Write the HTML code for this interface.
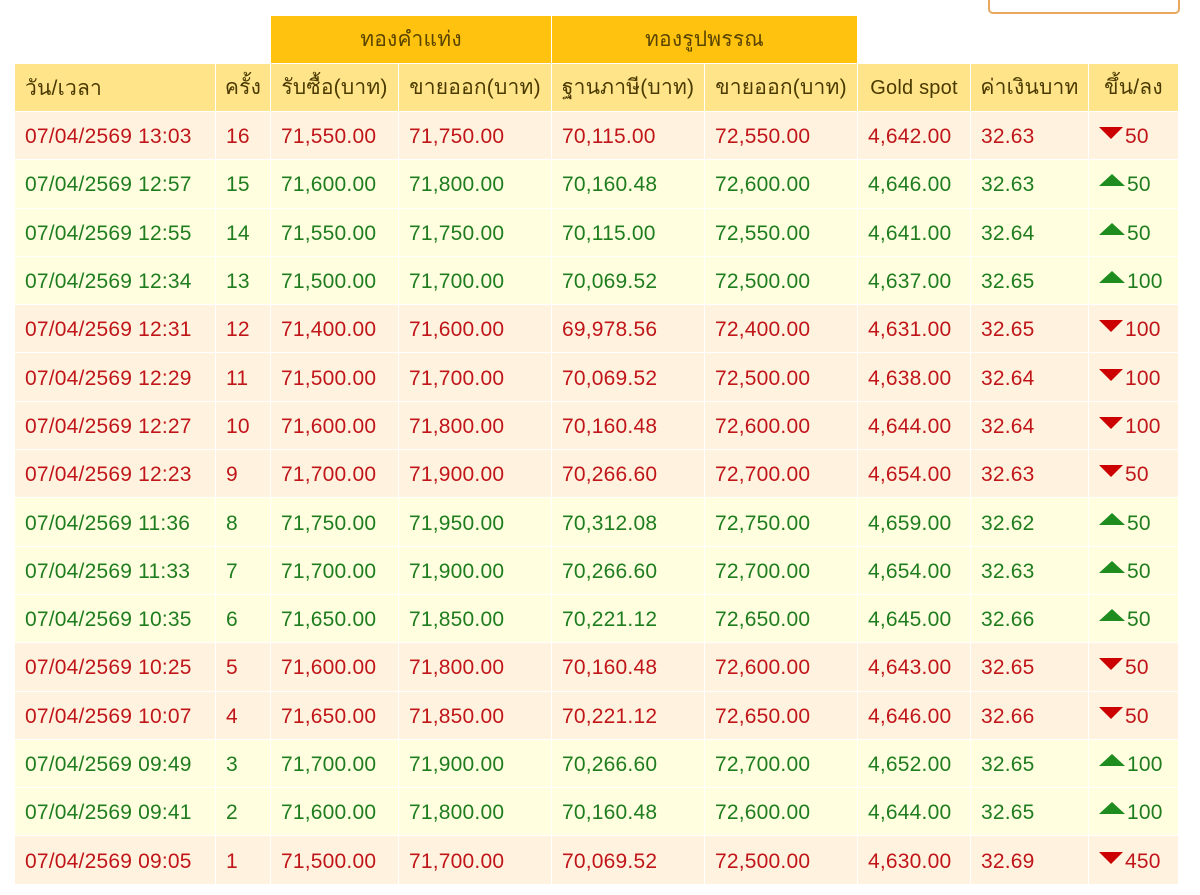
<!DOCTYPE html>
<html><head><meta charset="utf-8"><style>
body{margin:0;background:#fff;width:1200px;height:895px;overflow:hidden;position:relative;font-family:"Liberation Sans","DejaVu Sans",sans-serif;}
table{position:absolute;left:14px;top:15px;border-collapse:collapse;table-layout:fixed;}
tr{height:48.3px}
td{border:1px solid #fff;font-size:21px;line-height:22px;letter-spacing:0.2px;padding:3px 0 0 10px;white-space:nowrap;overflow:hidden;}
tr.h0{height:48px}
tr.h0 td.y{background:#ffc20e;text-align:center;color:#5a4500;padding:0;font-size:21px}
tr.h1{height:48px}
tr.h1 td{background:#ffe48a;color:#4a3a00;font-size:21px}
tr.r td{background:#fff3df;color:#c0161a}
tr.g td{background:#ffffe0;color:#1f7d1f}
.c{text-align:center;padding:0}
.dn{display:inline-block;width:0;height:0;border-left:12px solid transparent;border-right:12px solid transparent;border-top:12px solid #cc0000;margin-right:2px;vertical-align:4px}
.up{display:inline-block;width:0;height:0;border-left:13px solid transparent;border-right:13px solid transparent;border-bottom:12px solid #1e8c1e;margin-right:2px;vertical-align:5px}
.box{position:absolute;left:988px;top:-8px;width:188px;height:18px;border:2px solid #e8a860;border-radius:5px}
</style></head><body>
<div class="box"></div>
<table>
<colgroup><col style="width:201px"><col style="width:55px"><col style="width:128px"><col style="width:153px"><col style="width:153px"><col style="width:153px"><col style="width:113px"><col style="width:118px"><col style="width:90px"></colgroup>
<tr class="h0"><td style="border:0;background:#fff"></td><td style="border:0;background:#fff"></td><td class="y" colspan="2">ทองคำแท่ง</td><td class="y" colspan="2">ทองรูปพรรณ</td><td style="border:0;background:#fff"></td><td style="border:0;background:#fff"></td><td style="border:0;background:#fff"></td></tr>
<tr class="h1"><td>วัน/เวลา</td><td class="c">ครั้ง</td><td class="c">รับซื้อ(บาท)</td><td class="c">ขายออก(บาท)</td><td class="c">ฐานภาษี(บาท)</td><td class="c">ขายออก(บาท)</td><td class="c" style="font-size:20px">Gold spot</td><td class="c">ค่าเงินบาท</td><td class="c">ขึ้น/ลง</td></tr>
<tr class="r"><td>07/04/2569 13:03</td><td>16</td><td>71,550.00</td><td>71,750.00</td><td>70,115.00</td><td>72,550.00</td><td>4,642.00</td><td>32.63</td><td><span class="dn"></span>50</td></tr>
<tr class="g"><td>07/04/2569 12:57</td><td>15</td><td>71,600.00</td><td>71,800.00</td><td>70,160.48</td><td>72,600.00</td><td>4,646.00</td><td>32.63</td><td><span class="up"></span>50</td></tr>
<tr class="g"><td>07/04/2569 12:55</td><td>14</td><td>71,550.00</td><td>71,750.00</td><td>70,115.00</td><td>72,550.00</td><td>4,641.00</td><td>32.64</td><td><span class="up"></span>50</td></tr>
<tr class="g"><td>07/04/2569 12:34</td><td>13</td><td>71,500.00</td><td>71,700.00</td><td>70,069.52</td><td>72,500.00</td><td>4,637.00</td><td>32.65</td><td><span class="up"></span>100</td></tr>
<tr class="r"><td>07/04/2569 12:31</td><td>12</td><td>71,400.00</td><td>71,600.00</td><td>69,978.56</td><td>72,400.00</td><td>4,631.00</td><td>32.65</td><td><span class="dn"></span>100</td></tr>
<tr class="r"><td>07/04/2569 12:29</td><td>11</td><td>71,500.00</td><td>71,700.00</td><td>70,069.52</td><td>72,500.00</td><td>4,638.00</td><td>32.64</td><td><span class="dn"></span>100</td></tr>
<tr class="r"><td>07/04/2569 12:27</td><td>10</td><td>71,600.00</td><td>71,800.00</td><td>70,160.48</td><td>72,600.00</td><td>4,644.00</td><td>32.64</td><td><span class="dn"></span>100</td></tr>
<tr class="r"><td>07/04/2569 12:23</td><td>9</td><td>71,700.00</td><td>71,900.00</td><td>70,266.60</td><td>72,700.00</td><td>4,654.00</td><td>32.63</td><td><span class="dn"></span>50</td></tr>
<tr class="g"><td>07/04/2569 11:36</td><td>8</td><td>71,750.00</td><td>71,950.00</td><td>70,312.08</td><td>72,750.00</td><td>4,659.00</td><td>32.62</td><td><span class="up"></span>50</td></tr>
<tr class="g"><td>07/04/2569 11:33</td><td>7</td><td>71,700.00</td><td>71,900.00</td><td>70,266.60</td><td>72,700.00</td><td>4,654.00</td><td>32.63</td><td><span class="up"></span>50</td></tr>
<tr class="g"><td>07/04/2569 10:35</td><td>6</td><td>71,650.00</td><td>71,850.00</td><td>70,221.12</td><td>72,650.00</td><td>4,645.00</td><td>32.66</td><td><span class="up"></span>50</td></tr>
<tr class="r"><td>07/04/2569 10:25</td><td>5</td><td>71,600.00</td><td>71,800.00</td><td>70,160.48</td><td>72,600.00</td><td>4,643.00</td><td>32.65</td><td><span class="dn"></span>50</td></tr>
<tr class="r"><td>07/04/2569 10:07</td><td>4</td><td>71,650.00</td><td>71,850.00</td><td>70,221.12</td><td>72,650.00</td><td>4,646.00</td><td>32.66</td><td><span class="dn"></span>50</td></tr>
<tr class="g"><td>07/04/2569 09:49</td><td>3</td><td>71,700.00</td><td>71,900.00</td><td>70,266.60</td><td>72,700.00</td><td>4,652.00</td><td>32.65</td><td><span class="up"></span>100</td></tr>
<tr class="g"><td>07/04/2569 09:41</td><td>2</td><td>71,600.00</td><td>71,800.00</td><td>70,160.48</td><td>72,600.00</td><td>4,644.00</td><td>32.65</td><td><span class="up"></span>100</td></tr>
<tr class="r"><td>07/04/2569 09:05</td><td>1</td><td>71,500.00</td><td>71,700.00</td><td>70,069.52</td><td>72,500.00</td><td>4,630.00</td><td>32.69</td><td><span class="dn"></span>450</td></tr>
</table>
</body></html>
